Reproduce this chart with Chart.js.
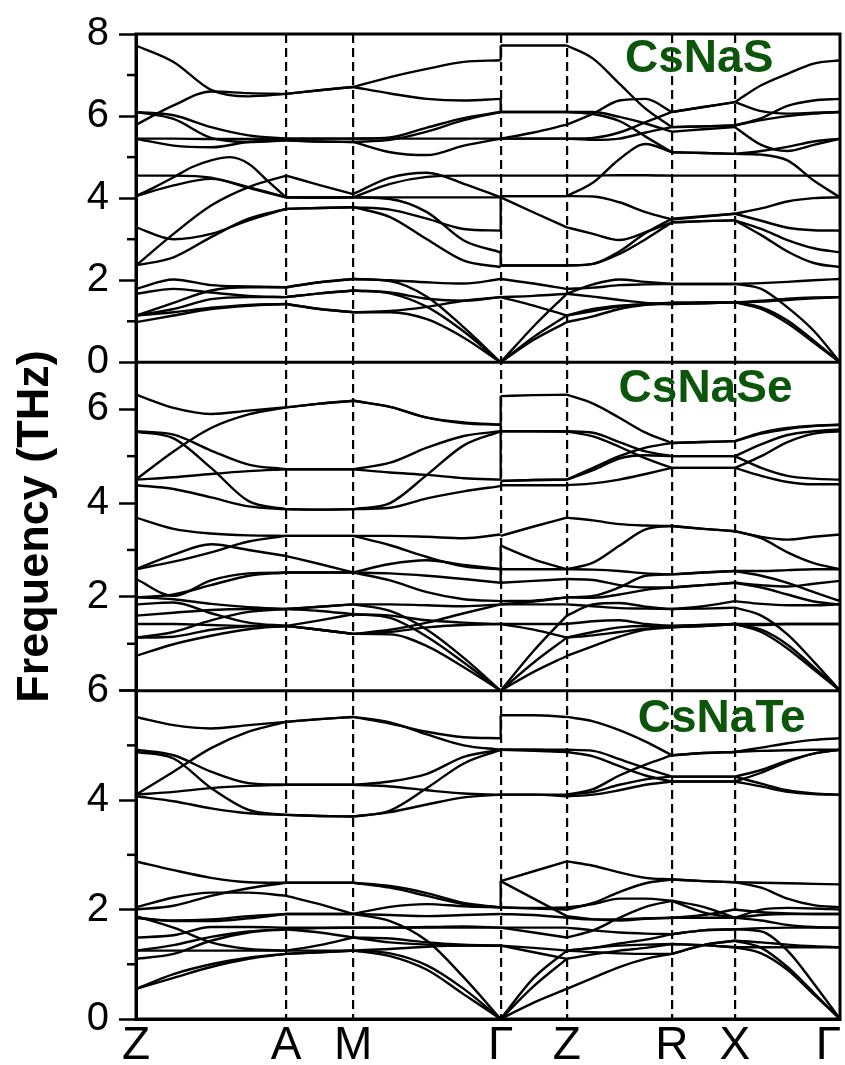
<!DOCTYPE html>
<html><head><meta charset="utf-8">
<script src="https://cdn.jsdelivr.net/npm/chart.js@4.4.1/dist/chart.umd.min.js"></script>
<style>html,body{margin:0;padding:0;background:#fff;}#wrap{position:relative;width:845px;height:1065px;}</style>
</head><body><div id="wrap"><canvas id="c" width="845" height="1065"></canvas></div>
<script>
// k-path
const KPOS = [0, 1.433, 2.073, 3.481, 4.112, 5.115, 5.717, 6.72];
const KLABELS = ['Z', 'A', 'M', '\u0393', 'Z', 'R', 'X', '\u0393\u2002'];
const PANEL_NAMES = ['CsNaS', 'CsNaSe', 'CsNaTe'];
const PANEL_MAX = [8, 7, 6];

// ---------- CsNaS (THz), each row = one branch sampled evenly along a segment ----------
const S_ZA = [[7.72,7.32,6.64,6.48,6.54],[5.79,6.26,6.60,6.56,6.54],[6.10,6.02,5.73,5.53,5.45],[6.10,5.93,5.47,5.37,5.41],[5.45,5.45,5.44,5.44,5.45],[5.45,5.28,5.24,5.37,5.41],[4.55,4.55,4.50,4.25,4.02],[4.05,4.27,4.51,4.76,4.92,5.00,4.84,4.43,4.02],[4.05,4.31,4.47,4.27,4.02],[3.29,3.00,3.13,3.46,3.74],[2.36,3.13,3.82,4.27,4.55],[2.36,2.56,3.05,3.50,3.74],[1.79,2.02,1.88,1.85,1.83],[1.67,1.79,1.70,1.62,1.59],[1.14,1.45,1.75,1.83,1.83],[1.14,1.30,1.54,1.59,1.59],[0.98,1.14,1.30,1.38,1.42],[1.14,1.22,1.33,1.40,1.42]];
const S_AM = [[6.54,6.63,6.71],[6.54,6.63,6.71],[5.45,5.45,5.45],[5.41,5.38,5.37],[5.45,5.45,5.45],[5.41,5.38,5.37],[4.02,4.02,4.02],[4.02,4.01,4.02],[4.02,4.02,4.02],[3.74,3.76,3.78],[4.55,4.32,4.10],[3.74,3.76,3.78],[1.83,1.95,2.03],[1.59,1.68,1.75],[1.83,1.95,2.03],[1.59,1.68,1.75],[1.42,1.30,1.22],[1.42,1.30,1.22]];
const S_MG = [[6.71,6.95,7.15,7.32,7.36],[6.71,6.55,6.42,6.38,6.42],[5.45,5.48,5.72,5.95,6.10],[5.37,5.12,5.05,5.28,5.45],[5.45,5.45,5.45,5.45,5.45],[5.37,5.42,5.62,5.90,6.10],[4.02,3.98,3.66,2.97,2.68],[4.02,4.35,4.52,4.55,4.55],[4.02,4.02,4.02,4.02,4.02],[3.78,3.72,3.50,3.25,3.21],[4.10,4.50,4.62,4.35,4.02],[3.78,3.54,3.00,2.48,2.32],[2.03,2.00,1.95,1.92,2.03],[1.75,1.70,1.55,1.50,1.59],[2.03,1.98,1.60,0.85,0],[1.75,1.68,1.35,0.75,0],[1.22,1.22,1.05,0.60,0],[1.22,1.25,1.35,1.50,1.59]];
const S_GZ = [[7.72,7.72,7.72],[6.10,6.10,6.10],[6.10,6.10,6.10],[5.45,5.60,5.79],[5.45,5.45,5.45],[5.45,5.45,5.45],[4.55,4.55,4.55],[4.05,4.05,4.05],[4.05,4.05,4.05],[4.02,3.65,3.29],[2.36,2.36,2.36],[2.36,2.36,2.36],[2.03,1.92,1.79],[1.59,1.62,1.67],[1.59,1.38,1.14],[0,0.88,1.67],[0,0.55,0.98],[0,0.62,1.14]];
const S_ZR = [[7.72,7.40,6.79,6.18,5.73],[6.10,6.10,5.98,5.82,5.62],[6.10,6.05,5.88,5.50,5.12],[5.79,6.06,6.38,6.42,6.10],[5.45,5.47,5.60,5.85,6.10],[5.45,5.42,5.45,5.60,5.73],[4.55,4.55,4.56,4.56,4.55],[4.05,4.38,4.95,5.32,5.12],[4.05,4.04,3.90,3.66,3.48],[3.29,3.13,2.98,3.17,3.41],[2.36,2.40,2.64,3.00,3.41],[2.36,2.40,2.70,3.15,3.50],[1.79,1.82,1.88,1.90,1.91],[1.67,1.90,2.02,1.96,1.91],[1.67,1.60,1.52,1.45,1.42],[1.14,1.25,1.36,1.41,1.42],[1.14,1.30,1.38,1.42,1.45],[0.98,1.12,1.30,1.40,1.45]];
const S_RX = [[5.73,5.75,5.77],[5.62,5.68,5.73],[5.12,5.10,5.08],[6.10,6.22,6.34],[6.10,6.22,6.34],[5.73,5.75,5.77],[4.55,4.55,4.55],[5.12,5.10,5.08],[3.48,3.55,3.62],[3.41,3.44,3.46],[3.41,3.44,3.46],[3.50,3.56,3.62],[1.91,1.91,1.91],[1.91,1.91,1.91],[1.42,1.44,1.46],[1.42,1.44,1.46],[1.45,1.46,1.46],[1.45,1.46,1.46]];
const S_XG = [[5.77,5.95,6.25,6.38,6.42],[5.73,5.30,5.15,5.30,5.45],[5.08,5.15,5.25,5.38,5.45],[6.34,6.75,7.03,7.28,7.36],[6.34,6.12,6.06,6.08,6.10],[5.77,5.90,6.00,6.06,6.10],[4.55,4.55,4.55,4.55,4.55],[5.08,5.06,4.92,4.43,4.02],[3.62,3.75,3.92,4.00,4.02],[3.46,3.25,2.98,2.78,2.68],[3.46,3.10,2.70,2.42,2.32],[3.62,3.45,3.28,3.22,3.21],[1.91,1.93,1.96,2.00,2.03],[1.91,1.79,1.34,0.77,0],[1.46,1.50,1.55,1.58,1.59],[1.46,1.34,1.02,0.53,0],[1.46,1.48,1.52,1.56,1.59],[1.46,1.30,0.95,0.48,0]];
const S_JUMP = [[7.36,7.72],[6.10,6.42],[3.21,4.02],[2.32,2.68]];

// ---------- CsNaSe ----------
const SE_ZA = [[6.31,6.03,5.90,5.97,6.04],[4.50,5.10,5.60,5.89,6.04],[5.53,5.46,5.12,4.82,4.72],[5.52,5.38,4.75,4.04,3.87],[4.50,4.55,4.62,4.68,4.72],[4.38,4.30,4.12,3.93,3.87],[3.69,3.45,3.35,3.31,3.30],[2.59,2.90,3.12,3.00,2.87],[2.59,2.75,2.95,3.18,3.30],[2.38,2.02,2.35,2.50,2.52],[1.99,2.05,2.25,2.45,2.52],[1.99,1.95,1.85,1.78,1.74],[1.84,1.88,1.65,1.45,1.38],[1.60,1.66,1.72,1.74,1.74],[1.42,1.42,1.40,1.38,1.38],[1.13,1.15,1.30,1.37,1.38],[1.13,1.25,1.50,1.68,1.74],[0.74,0.99,1.17,1.31,1.38]];
const SE_AM = [[6.04,6.12,6.18],[6.04,6.12,6.18],[4.72,4.72,4.72],[3.87,3.86,3.87],[4.72,4.72,4.72],[3.87,3.86,3.87],[3.30,3.30,3.30],[2.87,2.70,2.52],[3.30,3.30,3.30],[2.52,2.52,2.52],[2.52,2.52,2.52],[1.74,1.79,1.84],[1.38,1.50,1.63],[1.74,1.79,1.84],[1.38,1.30,1.21],[1.38,1.30,1.21],[1.74,1.70,1.63],[1.38,1.30,1.21]];
const SE_MG = [[6.18,6.05,5.82,5.72,5.67],[6.18,6.05,5.82,5.70,5.67],[4.72,4.86,5.18,5.43,5.53],[3.87,4.00,4.60,5.23,5.53],[4.72,4.65,4.60,4.53,4.50],[3.87,3.90,4.10,4.25,4.36],[3.30,3.30,3.28,3.25,3.33],[2.52,2.70,2.78,2.68,2.59],[3.30,3.10,2.85,2.65,2.59],[2.52,2.50,2.45,2.38,2.30],[2.52,2.35,2.10,1.95,1.91],[1.84,1.84,1.82,1.80,1.84],[1.63,1.60,1.50,1.45,1.42],[1.84,1.70,1.30,0.70,0],[1.21,1.25,1.35,1.40,1.42],[1.21,1.20,0.95,0.50,0],[1.63,1.55,1.15,0.60,0],[1.21,1.30,1.45,1.65,1.84]];
const SE_GZ = [[6.28,6.30,6.31],[5.53,5.53,5.53],[5.53,5.53,5.52],[4.47,4.49,4.50],[4.47,4.49,4.50],[4.38,4.38,4.38],[3.30,3.50,3.69],[3.09,2.80,2.59],[2.59,2.59,2.59],[2.30,2.34,2.38],[1.91,1.92,1.99],[1.84,1.90,1.99],[1.84,1.84,1.84],[1.42,1.30,1.13],[1.42,1.42,1.42],[0,0.85,1.60],[0,0.60,1.13],[0,0.40,0.74]];
const SE_ZR = [[6.31,6.12,5.82,5.50,5.28],[5.53,5.50,5.30,5.10,5.00],[5.53,5.42,5.20,4.95,4.75],[4.50,4.70,4.95,5.02,5.00],[4.38,4.42,4.50,4.62,4.75],[4.50,4.75,5.00,5.18,5.28],[3.69,3.63,3.55,3.52,3.51],[2.59,2.73,3.09,3.44,3.51],[2.59,2.58,2.55,2.50,2.48],[2.38,2.36,2.25,2.20,2.20],[1.99,2.02,2.20,2.45,2.48],[1.99,1.98,2.05,2.15,2.20],[1.60,1.84,1.87,1.79,1.74],[1.84,1.80,1.76,1.75,1.74],[1.42,1.48,1.50,1.42,1.38],[1.13,1.18,1.25,1.32,1.35],[0.74,0.95,1.15,1.30,1.35],[1.13,1.25,1.35,1.38,1.38]];
const SE_RX = [[5.28,5.30,5.32],[5.00,5.00,5.00],[4.75,4.75,4.75],[5.00,5.00,5.00],[4.75,4.75,4.75],[5.28,5.30,5.32],[3.51,3.45,3.40],[3.51,3.45,3.40],[2.48,2.52,2.55],[2.20,2.25,2.30],[2.48,2.52,2.55],[2.20,2.25,2.30],[1.74,1.80,1.91],[1.74,1.75,1.77],[1.38,1.40,1.42],[1.35,1.38,1.42],[1.35,1.38,1.42],[1.38,1.40,1.42]];
const SE_XG = [[5.32,5.50,5.60,5.65,5.67],[5.00,5.25,5.45,5.53,5.57],[4.75,4.58,4.45,4.40,4.40],[5.00,4.75,4.58,4.52,4.50],[4.75,5.00,5.30,5.48,5.53],[5.32,5.48,5.58,5.64,5.67],[3.40,3.28,3.22,3.28,3.33],[3.40,3.25,2.95,2.72,2.59],[2.55,2.55,2.57,2.59,2.59],[2.30,2.25,2.22,2.28,2.34],[2.55,2.45,2.30,2.10,1.91],[2.30,2.20,2.05,1.90,1.84],[1.91,1.85,1.82,1.82,1.84],[1.77,1.60,1.20,0.62,0],[1.42,1.42,1.42,1.42,1.42],[1.42,1.30,0.98,0.50,0],[1.42,1.40,1.42,1.42,1.42],[1.42,1.25,0.90,0.45,0]];
const SE_JUMP = [[4.50,6.28],[2.30,3.09]];

// ---------- CsNaTe ----------
const TE_ZA = [[5.52,5.37,5.31,5.37,5.43],[4.10,4.52,4.95,5.25,5.43],[4.92,4.82,4.52,4.31,4.28],[4.88,4.76,4.22,3.82,3.73],[4.10,4.15,4.22,4.26,4.28],[4.07,3.98,3.85,3.76,3.73],[2.88,2.72,2.58,2.50,2.49],[2.04,2.22,2.31,2.31,2.25],[2.00,2.07,2.25,2.39,2.49],[1.85,1.79,1.79,1.84,1.92],[1.88,1.67,1.40,1.28,1.25],[1.49,1.53,1.68,1.68,1.67],[1.25,1.25,1.25,1.25,1.25],[1.10,1.19,1.43,1.58,1.64],[0.55,0.82,1.00,1.12,1.19],[1.85,1.80,1.82,1.88,1.92],[1.25,1.35,1.50,1.60,1.64],[0.55,0.75,0.95,1.10,1.19]];
const TE_AM = [[5.43,5.48,5.52],[5.43,5.48,5.52],[4.28,4.28,4.28],[3.73,3.71,3.70],[4.28,4.28,4.28],[3.73,3.71,3.70],[2.49,2.49,2.49],[2.25,2.10,1.92],[2.49,2.49,2.49],[1.92,1.92,1.92],[1.25,1.35,1.49],[1.67,1.67,1.67],[1.25,1.25,1.25],[1.64,1.66,1.67],[1.19,1.22,1.25],[1.92,1.92,1.92],[1.64,1.58,1.49],[1.19,1.22,1.25]];
const TE_MG = [[5.52,5.40,5.25,5.15,5.13],[5.52,5.42,5.20,5.00,4.92],[4.28,4.34,4.48,4.79,4.92],[3.70,3.81,4.22,4.67,4.92],[4.28,4.25,4.18,4.12,4.10],[3.70,3.78,3.92,4.05,4.10],[2.49,2.43,2.30,2.12,2.04],[1.92,2.05,2.10,2.06,2.04],[2.49,2.40,2.25,2.10,2.04],[1.92,1.90,1.88,1.90,1.92],[1.49,1.40,1.36,1.34,1.34],[1.67,1.67,1.67,1.67,1.67],[1.25,1.20,0.98,0.55,0],[1.67,1.67,1.68,1.69,1.67],[1.25,1.15,0.90,0.45,0],[1.92,1.79,1.43,0.76,0],[1.49,1.47,1.40,1.36,1.34],[1.25,1.28,1.32,1.34,1.34]];
const TE_GZ = [[5.55,5.55,5.52],[4.92,4.92,4.92],[4.92,4.92,4.88],[4.92,4.90,4.88],[4.10,4.10,4.10],[4.10,4.10,4.07],[2.52,2.70,2.88],[2.52,2.20,1.88],[2.04,2.02,2.00],[2.04,2.03,2.04],[1.92,1.90,1.85],[1.67,1.58,1.49],[1.67,1.67,1.67],[1.34,1.30,1.25],[1.34,1.22,1.10],[0,0.75,1.25],[0,0.30,0.55],[0,0.60,1.10]];
const TE_ZR = [[5.52,5.44,5.28,5.07,4.82],[4.92,4.90,4.75,4.58,4.43],[4.88,4.80,4.62,4.45,4.34],[4.10,4.20,4.45,4.65,4.82],[4.10,4.15,4.28,4.38,4.43],[4.07,4.10,4.18,4.28,4.34],[2.88,2.80,2.68,2.58,2.55],[2.04,2.10,2.20,2.20,2.16],[2.00,2.12,2.32,2.48,2.55],[1.85,1.82,1.82,1.84,1.85],[1.88,1.82,1.80,1.83,1.85],[1.49,1.62,1.85,2.05,2.16],[1.25,1.30,1.38,1.45,1.55],[1.25,1.30,1.34,1.36,1.37],[1.10,1.18,1.25,1.30,1.37],[0.55,0.75,0.95,1.10,1.19],[1.25,1.22,1.20,1.19,1.19],[1.67,1.62,1.58,1.56,1.55]];
const TE_RX = [[4.82,4.86,4.88],[4.43,4.43,4.43],[4.34,4.34,4.34],[4.82,4.86,4.88],[4.43,4.43,4.43],[4.34,4.34,4.34],[2.55,2.52,2.50],[2.16,1.95,1.85],[2.55,2.52,2.50],[1.85,1.85,1.85],[1.85,1.90,2.00],[2.16,2.05,1.85],[1.55,1.62,1.64],[1.37,1.35,1.31],[1.37,1.35,1.31],[1.19,1.35,1.43],[1.19,1.35,1.43],[1.55,1.62,1.64]];
const TE_XG = [[4.88,4.96,5.04,5.10,5.13],[4.43,4.55,4.72,4.85,4.92],[4.34,4.25,4.15,4.11,4.10],[4.88,4.90,4.91,4.92,4.92],[4.43,4.30,4.18,4.12,4.10],[4.34,4.50,4.70,4.85,4.92],[2.50,2.49,2.48,2.47,2.46],[1.85,1.80,1.72,1.68,1.67],[2.50,2.40,2.20,2.08,2.04],[1.85,2.00,2.03,2.02,2.00],[2.00,1.95,1.93,1.92,1.92],[1.85,1.90,1.92,1.92,1.92],[1.64,1.60,1.25,0.65,0],[1.31,1.31,1.31,1.31,1.31],[1.31,1.20,0.90,0.45,0],[1.43,1.40,1.36,1.33,1.31],[1.43,1.30,0.95,0.48,0],[1.64,1.66,1.67,1.67,1.67]];
const TE_JUMP = [[5.13,5.55],[2.04,2.52]];

const PANEL_SEGMENTS = [
  [S_ZA, S_AM, S_MG, S_GZ, S_ZR, S_RX, S_XG],
  [SE_ZA, SE_AM, SE_MG, SE_GZ, SE_ZR, SE_RX, SE_XG],
  [TE_ZA, TE_AM, TE_MG, TE_GZ, TE_ZR, TE_RX, TE_XG]
];
const PANEL_JUMPS = [S_JUMP, SE_JUMP, TE_JUMP];
const AXIS_IDS = ['yS', 'ySe', 'yTe'];

const FONT = '"Liberation Sans", Arial, Helvetica, sans-serif';

// build datasets
const datasets = [];
PANEL_SEGMENTS.forEach((segs, p) => {
  segs.forEach((curves, s) => {
    const x0 = KPOS[s], x1 = KPOS[s + 1];
    curves.forEach(c => {
      const n = c.length;
      datasets.push({
        data: c.map((v, i) => ({x: x0 + (x1 - x0) * i / (n - 1), y: v})),
        yAxisID: AXIS_IDS[p]
      });
    });
  });
  PANEL_JUMPS[p].forEach(j => {
    datasets.push({data: [{x: KPOS[3], y: j[0]}, {x: KPOS[3], y: j[1]}], yAxisID: AXIS_IDS[p]});
  });
});

function yAxis(p) {
  return {
    type: 'linear',
    position: 'left',
    stack: 'freq',
    stackWeight: 1,
    weight: 3 - p,
    min: 0,
    max: PANEL_MAX[p],
    afterBuildTicks: sc => { const t = []; for (let v = 0; v <= PANEL_MAX[p]; v++) t.push({value: v}); sc.ticks = t; },
    afterFit: sc => { sc.width = 136; sc.paddingTop = 0; sc.paddingBottom = 0; },
    ticks: {
      autoSkip: false,
      color: '#000',
      font: {family: FONT, size: 40},
      padding: 10,
      callback: v => (v % 2 === 0 && !(p === 1 && v === 0) ? String(v) : '')
    },
    grid: {
      drawOnChartArea: false,
      drawTicks: true,
      tickLength: 17,
      tickWidth: 2.5,
      tickColor: ctx => (ctx.tick && ctx.tick.value % 2 === 0 ? '#000' : 'rgba(0,0,0,0)')
    },
    border: {display: true, color: '#000', width: 3},
    title: p === 1 ? {display: true, text: 'Frequency (THz)', color: '#000', font: {family: FONT, size: 45, weight: 'bold'}, padding: {top: 9, bottom: 0}} : {display: false}
  };
}

const framePlugin = {
  id: 'frame',
  afterDatasetsDraw(chart) {
    const {ctx, chartArea: a, scales} = chart;
    ctx.save();
    ctx.strokeStyle = '#000';
    ctx.lineWidth = 3;
    ctx.strokeRect(a.left, a.top, a.right - a.left, a.bottom - a.top);
    ['ySe', 'yTe'].forEach(id => {
      const s = scales[id];
      ctx.beginPath(); ctx.moveTo(a.left, s.top); ctx.lineTo(a.right, s.top); ctx.stroke();
    });
    ctx.lineWidth = 2.5;
    AXIS_IDS.forEach(id => {
      const s = scales[id];
      for (let v = 1; v < s.max; v += 2) {
        const y = s.getPixelForValue(v);
        ctx.beginPath(); ctx.moveTo(a.left - 9, y); ctx.lineTo(a.left, y); ctx.stroke();
      }
    });
    ctx.fillStyle = '#0b560b';
    ctx.font = 'bold 46px ' + FONT;
    ctx.textAlign = 'center';
    ctx.textBaseline = 'middle';
    const lx = [0.80, 0.809, 0.832];
    const ly = [25, 27, 29];
    AXIS_IDS.forEach((id, i) => {
      const s = scales[id];
      ctx.fillText(PANEL_NAMES[i], a.left + (a.right - a.left) * lx[i], s.top + ly[i]);
    });
    ctx.restore();
  }
};

const scales = {
  x: {
    type: 'linear',
    min: 0,
    max: KPOS[KPOS.length - 1],
    afterBuildTicks: sc => { sc.ticks = KPOS.map(v => ({value: v})); },
    afterFit: sc => { sc.height = 46; sc.paddingLeft = 0; sc.paddingRight = 0; },
    ticks: {
      autoSkip: false,
      maxRotation: 0,
      minRotation: 0,
      padding: 0,
      color: '#000',
      font: {family: FONT, size: 46},
      callback: (v, i) => KLABELS[i]
    },
    grid: {
      drawTicks: false,
      lineWidth: 2.2,
      color: ctx => (ctx.index === 0 || ctx.index === KPOS.length - 1 ? 'rgba(0,0,0,0)' : '#000')
    },
    border: {display: true, color: '#000', width: 3, dash: [9, 5]}
  },
  yS: yAxis(0),
  ySe: yAxis(1),
  yTe: yAxis(2)
};

new Chart(document.getElementById('c'), {
  type: 'line',
  data: {datasets},
  options: {
    responsive: false,
    devicePixelRatio: 1,
    animation: false,
    events: [],
    layout: {padding: {left: 0, right: 5, top: 34, bottom: 0}},
    plugins: {legend: {display: false}, tooltip: {enabled: false}, title: {display: false}},
    elements: {
      point: {radius: 0},
      line: {borderColor: '#000', borderWidth: 2.4, cubicInterpolationMode: 'monotone', fill: false}
    },
    scales
  },
  plugins: [framePlugin]
});
</script>
</body></html>
